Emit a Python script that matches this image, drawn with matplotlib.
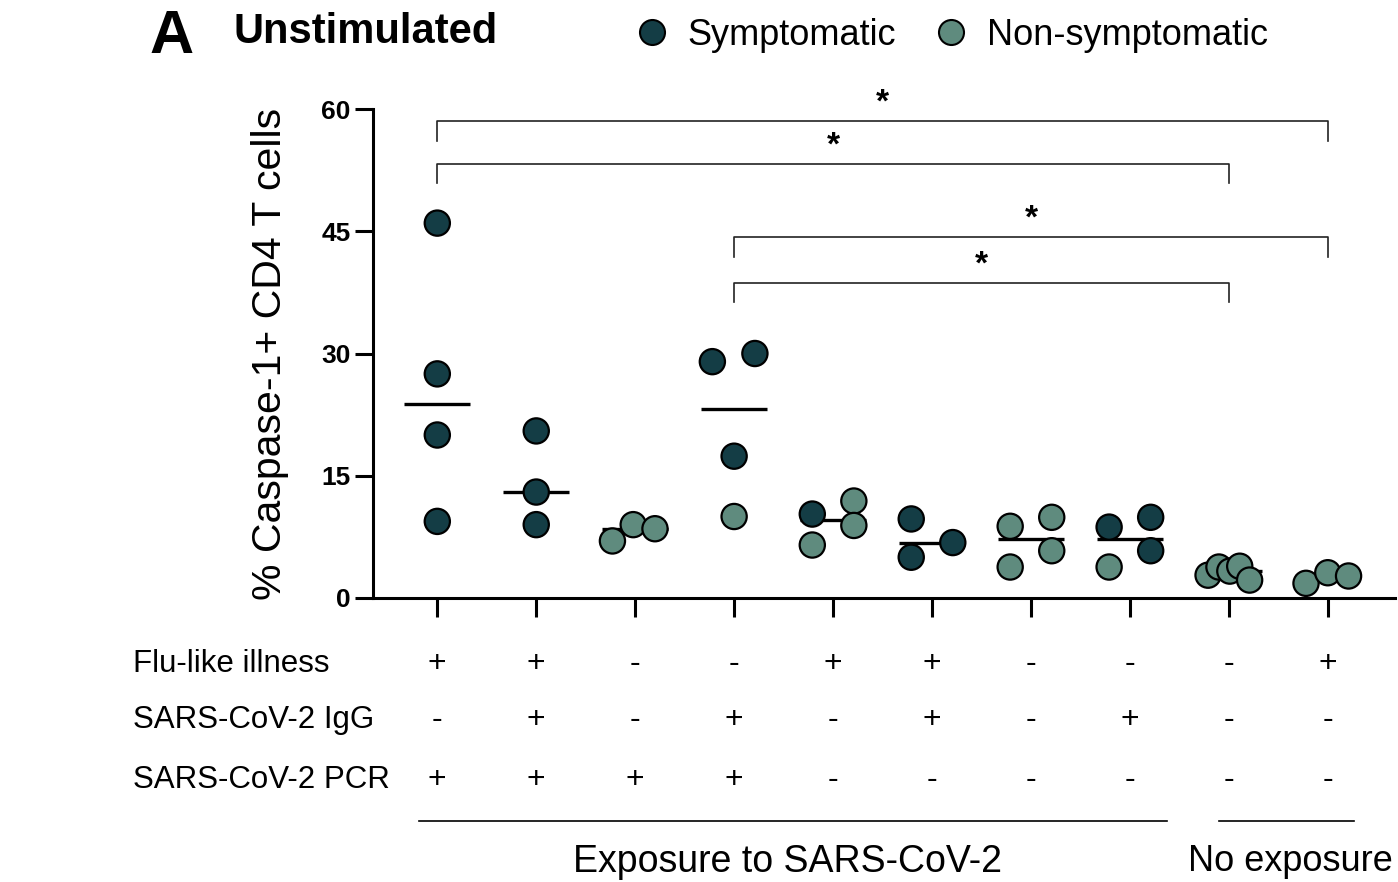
import numpy as np
import matplotlib.pyplot as plt
from matplotlib.lines import Line2D
import matplotlib.transforms as mtransforms

plt.rcParams['font.family'] = ['Liberation Sans', 'DejaVu Sans']

# === Data ===
# one list per group: values, symptom status (1 = symptomatic) and horizontal jitter
values = [
    [46.0, 27.5, 20.0, 9.4],
    [20.5, 13.0, 9.0],
    [7.0, 9.0, 8.5],
    [29.0, 30.0, 17.4, 10.0],
    [10.3, 11.9, 8.9, 6.5],
    [9.7, 6.8, 5.0],
    [8.8, 9.9, 5.8, 3.8],
    [8.7, 9.9, 5.8, 3.8],
    [2.8, 3.8, 3.3, 3.9, 2.2],
    [1.8, 3.1, 2.7],
]
symptomatic = [
    [1, 1, 1, 1],
    [1, 1, 1],
    [0, 0, 0],
    [1, 1, 1, 0],
    [1, 0, 0, 0],
    [1, 1, 1],
    [0, 0, 0, 0],
    [1, 1, 1, 0],
    [0, 0, 0, 0, 0],
    [0, 0, 0],
]
jitter = [
    [0, 0, 0, 0],
    [0, 0, 0],
    [-0.23, -0.02, 0.20],
    [-0.22, 0.21, 0, 0],
    [-0.21, 0.21, 0.21, -0.21],
    [-0.21, 0.21, -0.21],
    [-0.21, 0.21, 0.21, -0.21],
    [-0.21, 0.21, 0.21, -0.21],
    [-0.21, -0.10, 0.01, 0.11, 0.21],
    [-0.22, 0.0, 0.21],
]

row_labels = ['Flu-like illness', 'SARS-CoV-2 IgG', 'SARS-CoV-2 PCR']
flu = ['+', '+', '-', '-', '+', '+', '-', '-', '-', '+']
igg = ['-', '+', '-', '+', '-', '+', '-', '+', '-', '-']
pcr = ['+', '+', '+', '+', '-', '-', '-', '-', '-', '-']

# significance brackets: (group a, group b, height)
brackets = [(0, 9, 58.5), (0, 8, 53.3), (3, 9, 44.3), (3, 8, 38.7)]

dark = '#143d45'
light = '#5f8b7e'

# === Plot ===
fig = plt.figure(figsize=(13.98, 8.82), dpi=100)
ax = fig.add_axes([0.2668, 0.322, 0.7311, 0.5544])

for i, (vals, sym, jit) in enumerate(zip(values, symptomatic, jitter)):
    x = i + np.array(jit)
    cols = [dark if s else light for s in sym]
    ax.scatter(x, vals, s=330, c=cols, edgecolors='black', linewidths=1.6,
               zorder=3, clip_on=False)
    med = np.median(vals)
    ax.plot([i - 0.335, i + 0.335], [med, med], color='black', lw=2.4,
            zorder=2, solid_capstyle='butt')

for a, b, h in brackets:
    ax.plot([a, a, b, b], [h - 2.4, h, h, h - 2.4], color='#222222', lw=1.2,
            clip_on=False, zorder=1)
    ax.text((a + b) / 2, h + 0.3, '*', ha='center', va='bottom', fontsize=24,
            weight='bold', clip_on=False)

ax.set_xlim(-0.65, 9.68)
ax.set_ylim(0, 60)
ax.set_yticks([0, 15, 30, 45, 60])
ax.set_yticklabels(['0', '15', '30', '45', '60'], fontsize=19, weight='bold')
ax.set_xticks(range(10))
ax.set_xticklabels([])
ax.tick_params(axis='y', length=13, width=2.2, pad=3)
ax.tick_params(axis='x', length=14, width=2.2)
for side in ['top', 'right']:
    ax.spines[side].set_visible(False)
for side in ['left', 'bottom']:
    ax.spines[side].set_linewidth(2.2)
ax.set_ylabel('% Caspase-1+ CD4 T cells', fontsize=29.5, labelpad=23)

# === Table below axis ===
trans = mtransforms.blended_transform_factory(ax.transData, fig.transFigure)
row_y = [0.2472, 0.1837, 0.1156]
for label, signs, y in zip(row_labels, [flu, igg, pcr], row_y):
    fig.text(0.0951, y, label, fontsize=22.5, va='center', ha='left')
    for i, s in enumerate(signs):
        ax.text(i, y, s, transform=trans, fontsize=23, ha='center', va='center',
                clip_on=False)

ax.plot([-0.19, 7.37], [0.0692, 0.0692], transform=trans, color='black',
        lw=1.2, clip_on=False)
ax.plot([7.90, 9.27], [0.0692, 0.0692], transform=trans, color='black',
        lw=1.2, clip_on=False)
ax.text(3.54, 0.023, 'Exposure to SARS-CoV-2', transform=trans, fontsize=27,
        ha='center', va='center', clip_on=False)
ax.text(9.66, 0.023, 'No exposure', transform=trans, fontsize=26,
        ha='right', va='center', clip_on=False)

# === Titles and legend ===
fig.text(0.107, 0.957, 'A', fontsize=44, weight='bold', va='center', ha='left')
fig.text(0.1667, 0.964, 'Unstimulated', fontsize=30, weight='bold',
         va='center', ha='left')

handles = [
    Line2D([], [], marker='o', ls='', markersize=18, markerfacecolor=dark,
           markeredgecolor='black', markeredgewidth=1.5, label='Symptomatic'),
    Line2D([], [], marker='o', ls='', markersize=18, markerfacecolor=light,
           markeredgecolor='black', markeredgewidth=1.5, label='Non-symptomatic'),
]
fig.legend(handles=handles, loc='center', bbox_to_anchor=(0.680, 0.960), ncol=2,
           frameon=False, fontsize=26, handletextpad=0.5, columnspacing=1.0,
           handlelength=1.0)

plt.savefig('out.png', dpi=100)
